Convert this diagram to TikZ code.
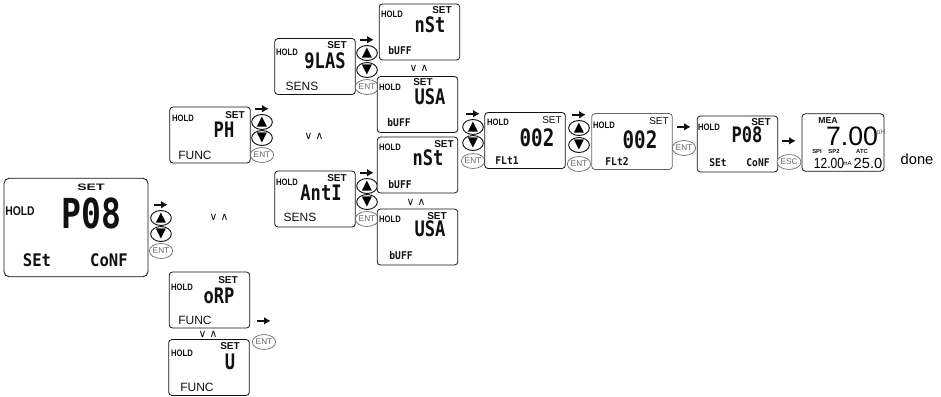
\documentclass[tikz,border=0pt]{standalone}
\usepackage{fontspec}
\setmainfont{Liberation Sans}
\newfontfamily\lcdfont[FakeStretch=0.8]{DejaVu Sans Mono}
\newfontfamily\lcdlowfont[FakeStretch=0.9]{DejaVu Sans Mono}
\newfontfamily\narrowfont[FakeStretch=0.82]{Liberation Sans}
\newfontfamily\widefont[FakeStretch=1.5]{Liberation Sans}
\newfontfamily\symbfont{DejaVu Sans}
\usetikzlibrary{shapes.geometric, arrows.meta, positioning}
\definecolor{kyInk}{HTML}{111111}
\definecolor{kyGrey}{HTML}{666666}
\tikzset{
  screen/.style={rectangle, rounded corners=2.5pt, draw=kyInk, line width=0.6pt,
    fill=white, minimum width=60.5pt, minimum height=42pt, inner sep=0pt},
  bigscreen/.style={screen, rounded corners=4pt, minimum width=108pt, minimum height=74pt},
  holdtxt/.style={inner sep=0pt, kyInk, font=\narrowfont\bfseries\fontsize{7}{8}\selectfont},
  settxt/.style={inner sep=0pt, kyInk, font=\bfseries\fontsize{7.5}{8}\selectfont},
  lcdtxt/.style={inner sep=0pt, kyInk, font=\lcdfont\bfseries\fontsize{16}{18}\selectfont},
  lcdlow/.style={inner sep=0pt, kyInk, font=\lcdlowfont\bfseries\fontsize{8}{9}\selectfont},
  modetxt/.style={inner sep=0pt, kyInk, font=\fontsize{9}{10}\selectfont},
  keybtn/.style={ellipse, draw=kyInk, line width=0.7pt, fill=white, minimum width=15.5pt,
    minimum height=11.2pt, inner sep=0pt, font=\symbfont\fontsize{10}{11}\selectfont},
  entbtn/.style={keybtn, draw=kyGrey, line width=0.5pt, text=kyGrey, font=\fontsize{6.2}{7}\selectfont},
  veetxt/.style={inner sep=0pt, kyInk, font=\symbfont\fontsize{8}{9}\selectfont},
  keyarrow/.style={-{Latex[length=1.7mm, width=2mm]}, line width=1.3pt, kyInk}
}
\begin{document}
\begin{tikzpicture}[x=0.75pt, y=-0.75pt]
  \useasboundingbox (0,0) rectangle (941,396);

  \node[bigscreen] (big) at (76,227.5) {};
  \node[holdtxt, font=\narrowfont\bfseries\fontsize{9.5}{10}\selectfont] (bigHold) at (20,211) {HOLD};
  \node[settxt, font=\widefont\bfseries\fontsize{7}{8}\selectfont] (bigSet) at (91,187) {SET};
  \node[lcdtxt, font=\lcdfont\bfseries\fontsize{31}{34}\selectfont] (bigVal) at (91.5,213) {P08};
  \node[lcdlow, font=\lcdlowfont\bfseries\fontsize{13}{14}\selectfont] (bigSEt) at (37,260) {SEt};
  \node[lcdlow, font=\lcdlowfont\bfseries\fontsize{13}{14}\selectfont] (bigConf) at (109,260) {CoNF};

  \node[keybtn] (bigUp) at (161,218) {▲};
  \node[keybtn] (bigDn) at (161,234) {▼};
  \node[entbtn] (bigEnt) at (161,251) {ENT};
  \draw[keyarrow] ([xshift=-5pt, yshift=4pt]bigUp.north) -- ([xshift=5pt, yshift=4pt]bigUp.north);
  \node[veetxt] (veeA) at (219,217) {∨ ∧};

  \node[screen] (ph) at (210,135) {};
  \node[holdtxt] (phHold) at (183,118) {HOLD};
  \node[settxt] (phSet) at (235,115) {SET};
  \node[lcdtxt] (phVal) at (224,130) {PH};
  \node[modetxt] (phMode) at (195,155) {FUNC};

  \node[keybtn] (phUp) at (262,122) {▲};
  \node[keybtn] (phDn) at (262,138) {▼};
  \node[entbtn] (phEnt) at (262,155) {ENT};
  \draw[keyarrow] ([xshift=-5pt, yshift=4pt]phUp.north) -- ([xshift=5pt, yshift=4pt]phUp.north);
  \node[veetxt] (veeB) at (314,136) {∨ ∧};

  \node[screen] (orp) at (209.5,300) {};
  \node[holdtxt] (orpHold) at (182,287) {HOLD};
  \node[settxt] (orpSet) at (228,280) {SET};
  \node[lcdtxt] (orpVal) at (219,296) {oRP};
  \node[modetxt] (orpMode) at (195,320) {FUNC};
  \node[veetxt] (veeC) at (208,334) {∨ ∧};

  \node[screen] (volt) at (209,367.5) {};
  \node[holdtxt] (voltHold) at (182,353) {HOLD};
  \node[settxt] (voltSet) at (230,346) {SET};
  \node[lcdtxt] (voltVal) at (230,362) {U};
  \node[modetxt] (voltMode) at (197,387) {FUNC};

  \node[entbtn] (voltEnt) at (264,342) {ENT};
  \draw[keyarrow] ([xshift=-5pt, yshift=10pt]voltEnt.north) -- ([xshift=5pt, yshift=10pt]voltEnt.north);

  \node[screen] (glas) at (315,66.5) {};
  \node[holdtxt] (glasHold) at (287,52) {HOLD};
  \node[settxt] (glasSet) at (337,45) {SET};
  \node[lcdtxt] (glasVal) at (325,61) {9LAS};
  \node[modetxt] (glasMode) at (302,86) {SENS};

  \node[keybtn] (glasUp) at (367,53) {▲};
  \node[keybtn] (glasDn) at (367,70) {▼};
  \node[entbtn] (glasEnt) at (367,87) {ENT};
  \draw[keyarrow] ([xshift=-5pt, yshift=4pt]glasUp.north) -- ([xshift=5pt, yshift=4pt]glasUp.north);

  \node[screen] (anti) at (315,199) {};
  \node[holdtxt] (antiHold) at (287,182) {HOLD};
  \node[settxt] (antiSet) at (337,178) {SET};
  \node[lcdtxt] (antiVal) at (321,193) {AntI};
  \node[modetxt] (antiMode) at (300,217) {SENS};

  \node[keybtn] (antiUp) at (367,186) {▲};
  \node[keybtn] (antiDn) at (367,202) {▼};
  \node[entbtn] (antiEnt) at (367,219) {ENT};
  \draw[keyarrow] ([xshift=-5pt, yshift=4pt]antiUp.north) -- ([xshift=5pt, yshift=4pt]antiUp.north);

  \node[screen] (nstA) at (419.5,32) {};
  \node[holdtxt] (nstAHold) at (392,14) {HOLD};
  \node[settxt] (nstASet) at (442,10) {SET};
  \node[lcdtxt] (nstAVal) at (430,25) {nSt};
  \node[lcdlow] (nstABuf) at (400,51) {bUFF};
  \node[veetxt] (veeD) at (419,68) {∨ ∧};

  \node[screen] (usaA) at (417.5,104.5) {};
  \node[holdtxt] (usaAHold) at (390,87) {HOLD};
  \node[settxt] (usaASet) at (423,82) {SET};
  \node[lcdtxt] (usaAVal) at (430,97) {USA};
  \node[lcdlow] (usaABuf) at (399,123) {bUFF};

  \node[screen] (nstB) at (417.5,165) {};
  \node[holdtxt] (nstBHold) at (390,147) {HOLD};
  \node[settxt] (nstBSet) at (444,144) {SET};
  \node[lcdtxt] (nstBVal) at (428,158) {nSt};
  \node[lcdlow] (nstBBuf) at (400,185) {bUFF};
  \node[veetxt] (veeE) at (416,202) {∨ ∧};

  \node[screen] (usaB) at (417.5,237) {};
  \node[holdtxt] (usaBHold) at (390,219) {HOLD};
  \node[settxt] (usaBSet) at (437,216) {SET};
  \node[lcdtxt] (usaBVal) at (430,229) {USA};
  \node[lcdlow] (usaBBuf) at (401,256) {bUFF};

  \node[keybtn] (bufUp) at (473,127) {▲};
  \node[keybtn] (bufDn) at (473,143) {▼};
  \node[entbtn] (bufEnt) at (473,161) {ENT};
  \draw[keyarrow] ([xshift=-5pt, yshift=4pt]bufUp.north) -- ([xshift=5pt, yshift=4pt]bufUp.north);

  \node[screen] (fltA) at (525,140.5) {};
  \node[holdtxt] (fltAHold) at (498,122) {HOLD};
  \node[settxt, font=\fontsize{7.5}{8}\selectfont] (fltASet) at (552,120) {SET};
  \node[lcdtxt, font=\lcdfont\bfseries\fontsize{18}{20}\selectfont] (fltAVal) at (537,138) {002};
  \node[lcdlow] (fltAName) at (507,161) {FLt1};

  \node[keybtn] (fltUp) at (579,128) {▲};
  \node[keybtn] (fltDn) at (579,145) {▼};
  \node[entbtn] (fltEnt) at (579,164) {ENT};
  \draw[keyarrow] ([xshift=-5pt, yshift=4pt]fltUp.north) -- ([xshift=5pt, yshift=4pt]fltUp.north);

  \node[screen, draw=kyGrey] (fltB) at (632,141.5) {};
  \node[holdtxt] (fltBHold) at (604,125) {HOLD};
  \node[settxt, font=\fontsize{7.5}{8}\selectfont] (fltBSet) at (659,121) {SET};
  \node[lcdtxt, font=\lcdfont\bfseries\fontsize{18}{20}\selectfont] (fltBVal) at (640,140) {002};
  \node[lcdlow] (fltBName) at (617,162) {FLt2};

  \node[entbtn] (saveEnt) at (684,148) {ENT};
  \draw[keyarrow] ([xshift=-5pt, yshift=10pt]saveEnt.north) -- ([xshift=5pt, yshift=10pt]saveEnt.north);

  \node[screen] (conf) at (737.5,144) {};
  \node[holdtxt] (confHold) at (709,127) {HOLD};
  \node[settxt] (confSet) at (761,122) {SET};
  \node[lcdtxt] (confVal) at (747,135) {P08};
  \node[lcdlow] (confSEt) at (718,163) {SEt};
  \node[lcdlow] (confConf) at (758,163) {CoNF};

  \node[entbtn] (escBtn) at (789,162) {ESC};
  \draw[keyarrow] ([xshift=-5pt, yshift=10pt]escBtn.north) -- ([xshift=5pt, yshift=10pt]escBtn.north);

  \node[screen, minimum width=61.5pt, minimum height=43pt] (mea) at (843,142.5) {};
  \node[settxt, font=\bfseries\fontsize{6.5}{7}\selectfont] (meaTitle) at (828,121) {MEA};
  \node[inner sep=0pt, font=\fontsize{20}{22}\selectfont] (meaVal) at (852,136) {7.00};
  \node[inner sep=0pt, kyGrey, font=\fontsize{5.5}{6}\selectfont] (meaUnit) at (881,133) {pH};
  \node[settxt, font=\bfseries\fontsize{4.4}{5}\selectfont] (meaSpa) at (817,151.5) {SPI};
  \node[settxt, font=\bfseries\fontsize{4.4}{5}\selectfont] (meaSpb) at (834,151.5) {SP2};
  \node[settxt, font=\bfseries\fontsize{4.4}{5}\selectfont] (meaAtc) at (862,151.5) {ATC};
  \node[inner sep=0pt, font=\narrowfont\fontsize{11}{12}\selectfont] (meaCur) at (829,163) {12.00};
  \node[inner sep=0pt, font=\fontsize{4.5}{5}\selectfont] (meaMa) at (847,163) {mA};
  \node[inner sep=0pt, font=\fontsize{11}{12}\selectfont] (meaTemp) at (868,163) {25.0};

  \node[inner sep=0pt, font=\fontsize{11}{12}\selectfont] (doneTxt) at (917,159) {done};
\end{tikzpicture}
\end{document}
